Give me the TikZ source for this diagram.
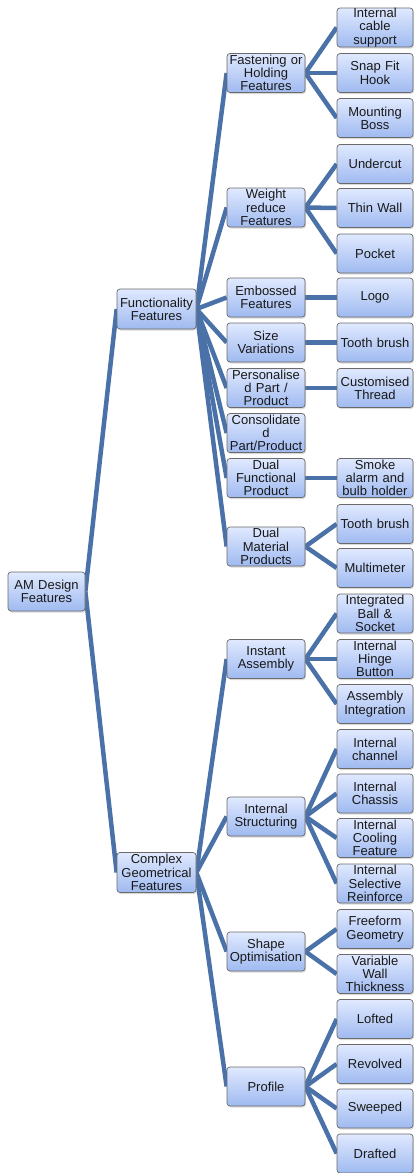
\documentclass[tikz,border=0pt]{standalone}
\usepackage{fontspec}
\setmainfont{Liberation Sans}
\usetikzlibrary{shadows}
\pgfdeclarelayer{background}
\pgfsetlayers{background,main}
\definecolor{linkc}{HTML}{4A72A8}
\definecolor{boxtop}{HTML}{E0E9FF}
\definecolor{boxbot}{HTML}{9FBAF0}
\definecolor{boxedge}{HTML}{6A6A6A}
\begin{document}
\begin{tikzpicture}[x=1pt,y=-1pt,
 box/.style={draw=boxedge, line width=0.7pt, rounded corners=3pt,
   top color=boxtop, bottom color=boxbot,
   drop shadow={opacity=0.3, shadow xshift=1pt, shadow yshift=-1.5pt},
   inner sep=0pt, align=center, font=\fontsize{13}{13.3}\selectfont,
   text=black!90, minimum height=39pt},
 l0/.style={box, minimum width=77pt, text width=77pt},
 l1/.style={box, minimum width=79pt, text width=79pt, minimum height=40pt},
 l2/.style={box, minimum width=78pt, text width=78pt},
 l3/.style={box, minimum width=76pt, text width=76pt},
 link/.style={draw=linkc, line width=4.5pt}]
\useasboundingbox (0,0) rectangle (414,1173);

% level 0
\node[l0] (am) at (46.5,591.5) {AM Design\\Features};
% level 1
\node[l1] (func) at (156.5,309) {Functionality\\Features};
\node[l1] (comp) at (156.5,872.5) {Complex\\Geometrical\\Features};
% level 2
\node[l2] (fast) at (266,73) {Fastening or\\Holding\\Features};
\node[l2] (weight) at (266,207.5) {Weight\\reduce\\Features};
\node[l2] (emb) at (266,297.5) {Embossed\\Features};
\node[l2] (size) at (266,342.5) {Size\\Variations};
\node[l2] (pers) at (266,388) {Personalise\\d Part /\\Product};
\node[l2] (cons) at (266,433) {Consolidate\\d\\Part/Product};
\node[l2] (dfunc) at (266,478) {Dual\\Functional\\Product};
\node[l2] (dmat) at (266,546.5) {Dual\\Material\\Products};
\node[l2] (inst) at (266,659) {Instant\\Assembly};
\node[l2] (istr) at (266,816.5) {Internal\\Structuring};
\node[l2] (shape) at (266,951.5) {Shape\\Optimisation};
\node[l2] (prof) at (266,1086.5) {Profile};
% level 3
\node[l3] (cable) at (375,27.5) {Internal\\cable\\support};
\node[l3] (snap) at (375,73) {Snap Fit\\Hook};
\node[l3] (boss) at (375,118) {Mounting\\Boss};
\node[l3] (under) at (375,164) {Undercut};
\node[l3] (thin) at (375,208) {Thin Wall};
\node[l3] (pocket) at (375,253.5) {Pocket};
\node[l3] (logo) at (375,297.5) {Logo};
\node[l3] (tootha) at (375,342.5) {Tooth brush};
\node[l3] (thread) at (375,388) {Customised\\Thread};
\node[l3] (smoke) at (375,478) {Smoke\\alarm and\\bulb holder};
\node[l3] (toothb) at (375,524) {Tooth brush};
\node[l3] (multi) at (375,568) {Multimeter};
\node[l3] (ball) at (375,613.5) {Integrated\\Ball \&\\Socket};
\node[l3] (hinge) at (375,659) {Internal\\Hinge\\Button};
\node[l3] (assy) at (375,704) {Assembly\\Integration};
\node[l3] (chan) at (375,749) {Internal\\channel};
\node[l3] (chassis) at (375,793.5) {Internal\\Chassis};
\node[l3] (cool) at (375,838) {Internal\\Cooling\\Feature};
\node[l3] (reinf) at (375,883.5) {Internal\\Selective\\Reinforce};
\node[l3] (free) at (375,929) {Freeform\\Geometry};
\node[l3] (var) at (375,974) {Variable\\Wall\\Thickness};
\node[l3] (loft) at (375,1019) {Lofted};
\node[l3] (rev) at (375,1064) {Revolved};
\node[l3] (sweep) at (375,1108.5) {Sweeped};
\node[l3] (draft) at (375,1153.5) {Drafted};

\begin{pgfonlayer}{background}
\foreach \c in {func,comp} \draw[link] (am.east) -- (\c.west);
\foreach \c in {fast,weight,emb,size,pers,cons,dfunc,dmat} \draw[link] (func.east) -- (\c.west);
\foreach \c in {inst,istr,shape,prof} \draw[link] (comp.east) -- (\c.west);
\foreach \c in {cable,snap,boss} \draw[link] (fast.east) -- (\c.west);
\foreach \c in {under,thin,pocket} \draw[link] (weight.east) -- (\c.west);
\draw[link] (emb.east) -- (logo.west);
\draw[link] (size.east) -- (tootha.west);
\draw[link] (pers.east) -- (thread.west);
\draw[link] (dfunc.east) -- (smoke.west);
\foreach \c in {toothb,multi} \draw[link] (dmat.east) -- (\c.west);
\foreach \c in {ball,hinge,assy} \draw[link] (inst.east) -- (\c.west);
\foreach \c in {chan,chassis,cool,reinf} \draw[link] (istr.east) -- (\c.west);
\foreach \c in {free,var} \draw[link] (shape.east) -- (\c.west);
\foreach \c in {loft,rev,sweep,draft} \draw[link] (prof.east) -- (\c.west);
\end{pgfonlayer}
\end{tikzpicture}
\end{document}
